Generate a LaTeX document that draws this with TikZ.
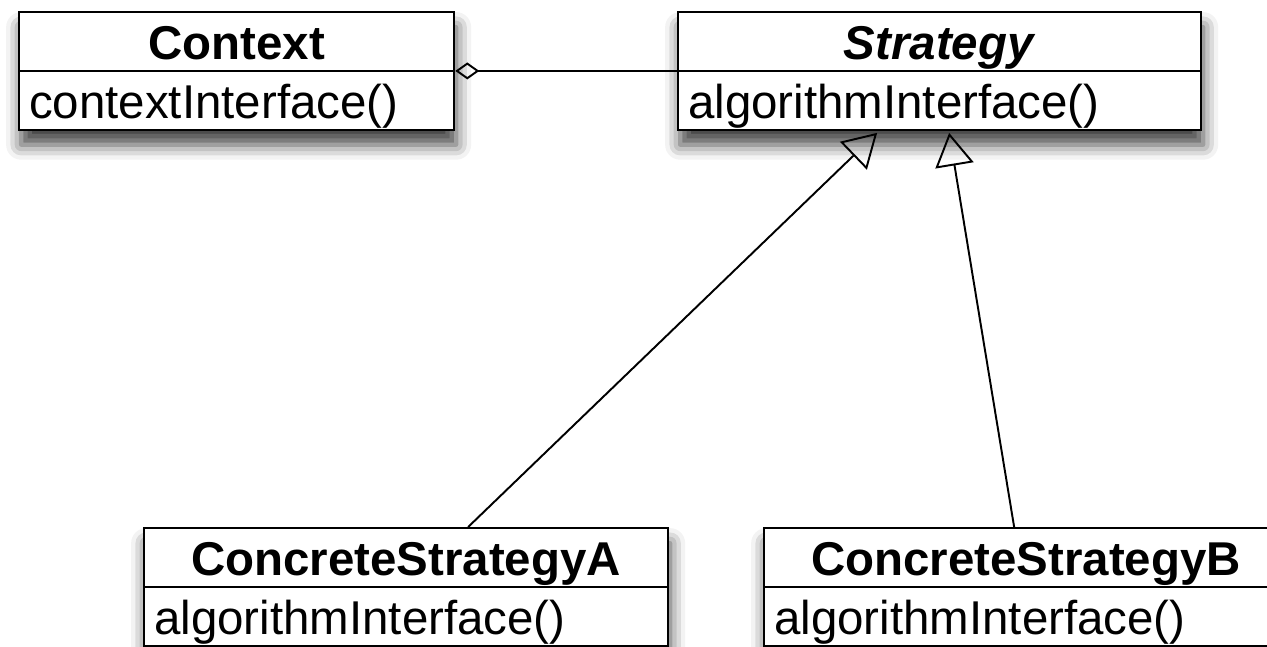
\documentclass[tikz,border=0pt]{standalone}
\usepackage{fontspec}
\setmainfont{Liberation Sans}
\usetikzlibrary{shapes.multipart, arrows.meta, shadows.blur}

% one line of a class box, fixed height and depth
\newcommand{\clstitle}[1]{\makebox[\hsize][c]{\rule[-0.1cm]{0pt}{0.93cm}\smash{\textbf{#1}}}}
\newcommand{\clsop}[1]{\makebox[\hsize][l]{\rule[-0.1cm]{0pt}{0.93cm}\smash{#1}}}
\tikzstyle{umlclass} = [rectangle split, rectangle split parts=2, draw=black, line width=1.3pt, fill=white, inner xsep=0.2cm, inner ysep=0.1cm, align=left, font=\fontsize{27}{30}\selectfont, blur shadow={shadow xshift=0.04cm, shadow yshift=-0.3cm, shadow blur radius=0.3cm, shadow opacity=75}]
\tikzstyle{aggregation} = [line width=1.1pt, {Diamond[open, length=0.48cm, width=0.34cm]}-]
\tikzstyle{inherit} = [line width=1.1pt, -{Triangle[open, length=0.66cm, width=0.77cm]}]

\begin{document}
\begin{tikzpicture}
\useasboundingbox (0,0) rectangle (25.34,12.92);

\node [umlclass, text width=8.3cm, anchor=north west] (context) at (0.36,12.7) {\clstitle{Context}\nodepart{second}\clsop{contextInterface()}};
\node [umlclass, text width=10.06cm, anchor=north west] (strategy) at (13.54,12.7) {\clstitle{\textit{Strategy}}\nodepart{second}\clsop{algorithmInterface()}};
\node [umlclass, text width=10.08cm, anchor=north west] (csa) at (2.86,2.38) {\clstitle{ConcreteStrategyA}\nodepart{second}\clsop{algorithmInterface()}};
\node [umlclass, text width=10.08cm, anchor=north west] (csb) at (15.26,2.38) {\clstitle{ConcreteStrategyB}\nodepart{second}\clsop{algorithmInterface()}};

\draw [aggregation] (context.text split east) -- (context.text split east -| strategy.west);
\draw [inherit] ([xshift=1.24cm]csa.north) -- ([xshift=-1.25cm, yshift=-0.04cm]strategy.south);
\draw [inherit] ([xshift=-0.24cm]csb.north) -- ([xshift=0.19cm, yshift=-0.04cm]strategy.south);

\end{tikzpicture}
\end{document}
